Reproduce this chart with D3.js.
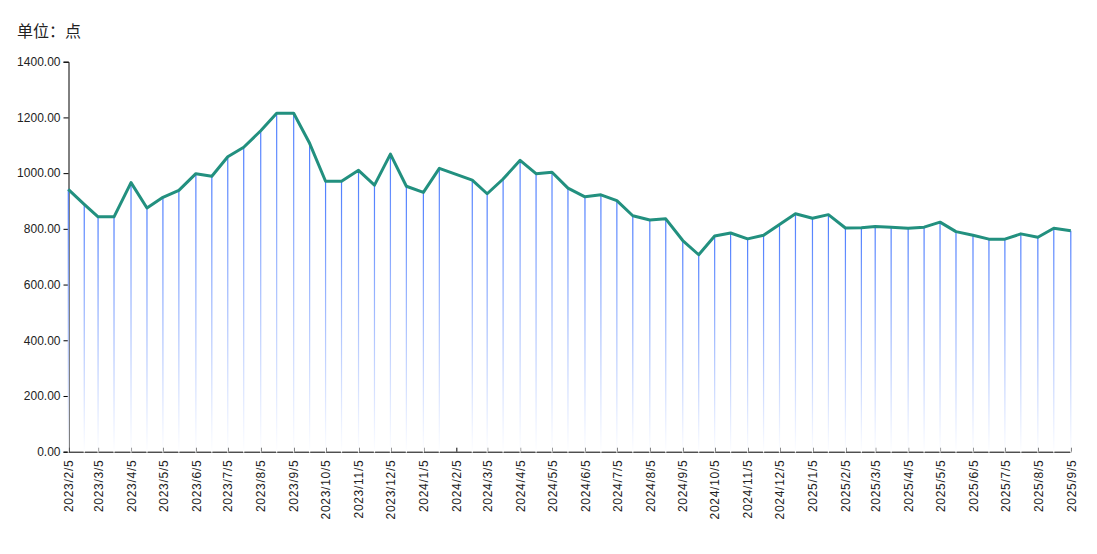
<!DOCTYPE html>
<html><head><meta charset="utf-8">
<script src="https://cdn.jsdelivr.net/npm/d3@7"></script>
<style>body{margin:0;background:#fff}svg{display:block}</style>
</head><body>
<svg id="c" width="1097" height="554"></svg>
<script>
const dates = ["2023/2/5","2023/2/20","2023/3/5","2023/3/20","2023/4/5","2023/4/20","2023/5/5","2023/5/20","2023/6/5","2023/6/20","2023/7/5","2023/7/20","2023/8/5","2023/8/20","2023/9/5","2023/9/20","2023/10/5","2023/10/20","2023/11/5","2023/11/20","2023/12/5","2023/12/20","2024/1/5","2024/1/20","2024/2/20","2024/3/5","2024/3/20","2024/4/5","2024/4/20","2024/5/5","2024/5/20","2024/6/5","2024/6/20","2024/7/5","2024/7/20","2024/8/5","2024/8/20","2024/9/5","2024/9/20","2024/10/5","2024/10/20","2024/11/5","2024/11/20","2024/12/5","2024/12/20","2025/1/5","2025/1/20","2025/2/5","2025/2/20","2025/3/5","2025/3/20","2025/4/5","2025/4/20","2025/5/5","2025/5/20","2025/6/5","2025/6/20","2025/7/5","2025/7/20","2025/8/5","2025/8/20","2025/9/5"];
const values = [942,888,843,843,966,875,913,938,998,989,1059,1093,1152,1215,1215,1107,971,971,1010,957,1068,953,931,1017,975,926,979,1046,998,1003,946,915,922,901,847,832,836,758,707,774,785,764,777,816,854,838,851,803,804,808,806,802,806,824,790,777,763,763,782,770,802,793];
const tickLabels = ["2023/2/5","2023/3/5","2023/4/5","2023/5/5","2023/6/5","2023/7/5","2023/8/5","2023/9/5","2023/10/5","2023/11/5","2023/12/5","2024/1/5","2024/2/5","2024/3/5","2024/4/5","2024/5/5","2024/6/5","2024/7/5","2024/8/5","2024/9/5","2024/10/5","2024/11/5","2024/12/5","2025/1/5","2025/2/5","2025/3/5","2025/4/5","2025/5/5","2025/6/5","2025/7/5","2025/8/5","2025/9/5"];
const yTicks = [0,200,400,600,800,1000,1200,1400];

const parse = d3.timeParse("%Y/%-m/%-d");
const data = dates.map((d,i)=>({date:parse(d), v:values[i]}));
const svg = d3.select("#c");
const font = "'Liberation Sans',Arial,'Noto Sans CJK SC',sans-serif";

const x = d3.scaleTime().domain([parse("2023/2/5"), parse("2025/9/5")]).range([68.3, 1070.8]);
const y = d3.scaleLinear().domain([0,1400]).range([451.7, 61.7]);

const defs = svg.append("defs");
const grad = defs.append("linearGradient").attr("id","bg").attr("x1",0).attr("y1",0).attr("x2",0).attr("y2",1);
grad.append("stop").attr("offset","0%").attr("stop-color","#4d7dff");
grad.append("stop").attr("offset","100%").attr("stop-color","#ffffff");

// title
svg.append("text").attr("x",17).attr("y",37).attr("font-size",16).attr("font-family","'Noto Sans CJK SC',sans-serif").attr("fill","#222").text("单位：点");

// y axis
const yAxis = svg.append("g").attr("transform","translate(68.5,0)")
  .call(d3.axisLeft(y).tickValues(yTicks).tickFormat(d3.format(".2f")).tickSizeOuter(0).tickSize(5).tickPadding(3));
yAxis.select(".domain").attr("stroke","#000");
yAxis.selectAll("text").attr("font-size",12).attr("font-family",font).attr("fill","#222");

// x axis
const xAxis = svg.append("g").attr("transform","translate(0,451.7)")
  .call(d3.axisBottom(x).tickValues(tickLabels.map(parse)).tickFormat(d3.timeFormat("%Y/%-m/%-d")).tickSize(-4).tickSizeOuter(0).tickPadding(6));
xAxis.select(".domain").attr("stroke","#000");
xAxis.selectAll("text").attr("font-size",12).attr("font-family",font).attr("fill","#222")
  .attr("letter-spacing","0.7px")
  .attr("transform","rotate(-90)").attr("text-anchor","end").attr("dy","0.35em").attr("y",0).attr("x",-8);

// bars
svg.append("g").selectAll("rect").data(data).join("rect")
  .attr("x",d=>x(d.date)-0.6).attr("width",1.2)
  .attr("y",d=>y(d.v)).attr("height",d=>y(0)-y(d.v)+1)
  .attr("fill","url(#bg)");

// line
svg.append("path").datum(data)
  .attr("d", d3.line().x(d=>x(d.date)).y(d=>y(d.v)))
  .attr("fill","none").attr("stroke","#22907f").attr("stroke-width",3).attr("stroke-linejoin","round");
</script>
</body></html>
